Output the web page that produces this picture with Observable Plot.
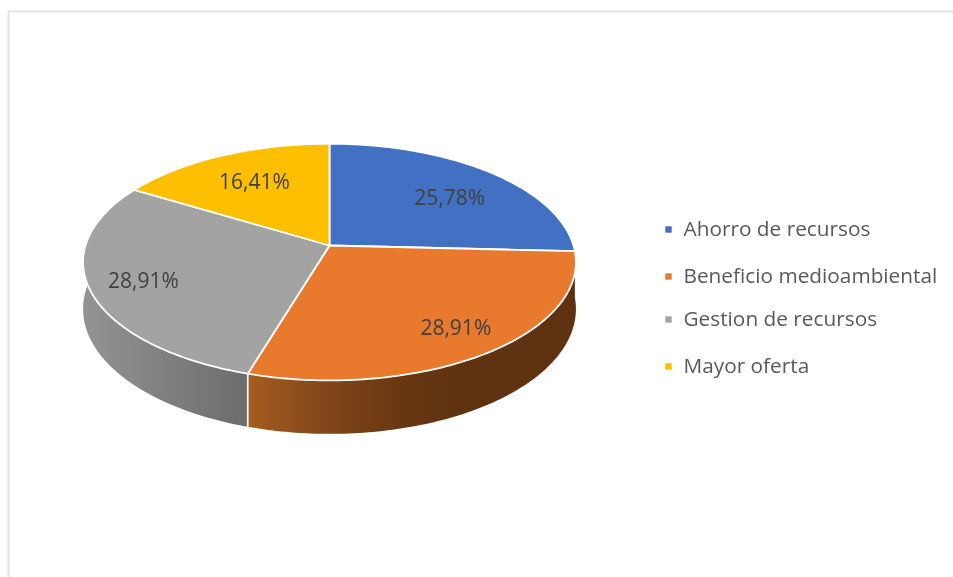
<!DOCTYPE html>
<html lang="es">
<head>
<meta charset="utf-8">
<script src="https://cdn.jsdelivr.net/npm/d3@7"></script>
<script src="https://cdn.jsdelivr.net/npm/@observablehq/plot@0.6"></script>
<style>
  html, body { margin: 0; padding: 0; background: #fff; }
  svg { display: block; filter: blur(0.6px); }
</style>
</head>
<body>
<div id="chart"></div>
<script>
const categories = ["Ahorro de recursos", "Beneficio medioambiental", "Gestion de recursos", "Mayor oferta"];
const shares = [25.78, 28.91, 28.91, 16.41];
const shareLabels = ["25,78%", "28,91%", "28,91%", "16,41%"];
const colors = ["#4270c2", "#e97a2d", "#a3a3a3", "#febf00"];
const labelRadii = [0.69, 0.79, 0.785, 0.7];
const labelTurns = [3, -1.5, 0, 1];
const legendRows = [229, 276, 319, 366];
const orangeStops = [[249, "#a55c20"], [330, "#7f4519"], [400, "#693711"], [460, "#5f3311"], [576, "#5e3210"]];
const grayStops = [[83, "#939393"], [170, "#7f7f7f"], [249, "#6b6b6b"]];

// Perspective view of the pie disc
const cx = 329, cy = 245, A = 244, B = 116, k = 0.14, depth = 46;
const project = (theta, r = 1, drop = 0) => {
  const u = r * Math.sin(theta), v = r * Math.cos(theta), w = 1 + k * v;
  return {x: cx + A * u / w, y: cy - B * v / w + drop / w};
};
const total = d3.sum(shares);
const rad = Math.PI / 180;
let acc = 0;
const slices = shares.map((s, i) => {
  const a0 = acc / total * 2 * Math.PI;
  acc += s;
  const a1 = acc / total * 2 * Math.PI;
  return {i, a0, a1, color: colors[i]};
});
const arc = (from, to, drop = 0) => {
  const n = Math.ceil(Math.abs(to - from) / rad);
  return d3.range(n + 1).map((j) => project(from + (to - from) * j / n, 1, drop));
};

// Top faces
const faces = slices.flatMap((s) => {
  const hub = project(0, 0);
  return [hub, ...arc(s.a0, s.a1), hub].map((p) => ({...p, id: s.i, color: s.color}));
});

// Side walls
const wall = (from, to) => {
  const top = arc(from, to);
  return [...top, ...arc(to, from, depth), top[0]];
};
const orangeWall = wall(slices[1].a0, slices[1].a1);
const grayWall = wall(slices[2].a0, 275 * rad);
const seam = [project(slices[1].a1), project(slices[1].a1, 1, depth)];

// Horizontal shading of the walls, defined in the x scale's space
const gradient = (id, stops) => (index, scales) => {
  const ns = "http://www.w3.org/2000/svg";
  const g = document.createElementNS(ns, "linearGradient");
  g.setAttribute("id", id);
  g.setAttribute("gradientUnits", "userSpaceOnUse");
  const x0 = scales.x(stops[0][0]), x1 = scales.x(stops[stops.length - 1][0]);
  g.setAttribute("x1", x0); g.setAttribute("x2", x1);
  g.setAttribute("y1", 0); g.setAttribute("y2", 0);
  for (const [x, c] of stops) {
    const s = document.createElementNS(ns, "stop");
    s.setAttribute("offset", (scales.x(x) - x0) / (x1 - x0));
    s.setAttribute("stop-color", c);
    g.append(s);
  }
  const defs = document.createElementNS(ns, "defs");
  defs.append(g);
  return defs;
};

// Value labels
const labels = slices.map((s) => ({...project((s.a0 + s.a1) / 2 + labelTurns[s.i] * rad, labelRadii[s.i]), text: shareLabels[s.i]}));
const legend = categories.map((name, i) => ({name, color: colors[i], y: legendRows[i]}));

const font = "'Open Sans', 'Noto Sans', sans-serif";
const plot = Plot.plot({
  width: 953,
  height: 577,
  margin: 0,
  style: {background: "#fff", fontFamily: font, overflow: "hidden"},
  x: {domain: [0, 953], range: [0, 953], axis: null},
  y: {domain: [0, 577], range: [0, 577], axis: null},
  color: {type: "identity"},
  marks: [
    Plot.ruleY([11], {x1: 8, x2: 953, stroke: "#e3e3e3", strokeWidth: 2}),
    Plot.ruleX([8], {y1: 11, y2: 577, stroke: "#e3e3e3", strokeWidth: 2}),
    gradient("orangeWall", orangeStops),
    gradient("grayWall", grayStops),
    Plot.line(orangeWall, {x: "x", y: "y", fill: "url(#orangeWall)", stroke: "none", curve: "linear"}),
    Plot.line(grayWall, {x: "x", y: "y", fill: "url(#grayWall)", stroke: "none", curve: "linear"}),
    Plot.line(seam, {x: "x", y: "y", stroke: "#f4f4f4", strokeWidth: 1.8}),
    Plot.line(faces, {x: "x", y: "y", z: "id", fill: "color", stroke: "#fff", strokeWidth: 1.8, strokeLinejoin: "round", curve: "linear"}),
    Plot.text(labels, {x: "x", y: "y", dy: 2, text: "text", fill: "#404040", fontSize: 21, textAnchor: "middle", lineAnchor: "middle"}),
    Plot.dot(legend, {x: 668, y: "y", symbol: "square", r: 3.6, fill: "color", stroke: null}),
    Plot.text(legend, {x: 683, y: "y", text: "name", fill: "#595959", fontSize: 20.8, textAnchor: "start", lineAnchor: "middle"})
  ]
});
document.getElementById("chart").append(plot);
</script>
</body>
</html>
